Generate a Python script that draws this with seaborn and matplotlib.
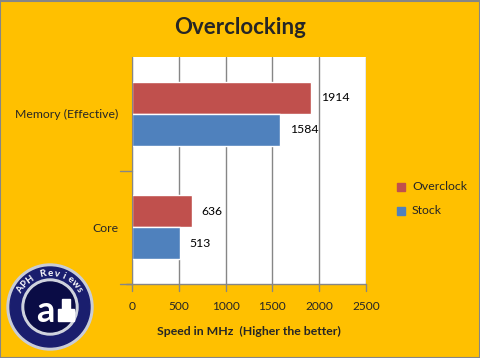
import numpy as np
import pandas as pd
import matplotlib
matplotlib.use("Agg")
import matplotlib.pyplot as plt
import seaborn as sns
from matplotlib.patches import Circle, Rectangle

# Data
categories = ["Memory (Effective)", "Core"]
series = ["Overclock", "Stock"]
overclock = [1914, 636]
stock = [1584, 513]
xticks = [0, 500, 1000, 1500, 2000, 2500]

df = pd.DataFrame({
    "category": categories * 2,
    "series": ["Overclock"] * 2 + ["Stock"] * 2,
    "speed": overclock + stock,
})

sns.set_style("white")
plt.rcParams["font.family"] = ["Lato", "DejaVu Sans"]

bg = "#FFC000"
colors = {"Overclock": "#C0504D", "Stock": "#4F81BD"}

fig = plt.figure(figsize=(4.81, 3.58), dpi=100, facecolor=bg)
ax = fig.add_axes([132 / 481, 1 - 284 / 358, 234 / 481, 227 / 358])
ax.set_facecolor("white")

sns.barplot(data=df, y="category", x="speed", hue="series", order=categories,
            hue_order=series, palette=colors, orient="h", width=0.56,
            saturation=1, ax=ax, legend=False)

for cont in ax.containers:
    ax.bar_label(cont, padding=7, fontsize=8.8, color="black")

ax.set_xlim(0, 2500)
ax.set_xticks(xticks)
ax.set_xticklabels([str(t) for t in xticks], fontsize=8.6)
ax.xaxis.grid(True, color="#868686", linewidth=1)
ax.set_axisbelow(True)
ax.tick_params(axis="x", length=0, pad=12)
ax.tick_params(axis="y", labelsize=8.8, length=0, pad=10)
ax.set_ylim(1.5, -0.5)
ax.set_ylabel("")
ax.set_xlabel("Speed in MHz  (Higher the better)", fontsize=8.8, fontweight="bold", labelpad=10)
for s in ["top", "right", "bottom"]:
    ax.spines[s].set_visible(False)
ax.spines["left"].set_color("#868686")

# Little tick marks outside the plot area
ax.plot([-0.05, 0], [0.5, 0.5], transform=ax.get_yaxis_transform(), color="#868686", lw=1, clip_on=False)
ax.plot([-0.05, 0], [1.5, 1.5], transform=ax.get_yaxis_transform(), color="#868686", lw=1, clip_on=False)
for t in xticks:
    ax.plot([t, t], [0, -0.03], transform=ax.get_xaxis_transform(), color="#868686", lw=1, clip_on=False)
ax.plot([-60, 2500], [0, 0], transform=ax.get_xaxis_transform(), color="#868686", lw=1, clip_on=False)

fig.text(0.5, 1 - 27 / 358, "Overclocking", ha="center", va="center",
         fontsize=16, fontweight="bold")

# Legend
for i, name in enumerate(series):
    y = 187 + 24 * i
    fig.patches.append(Rectangle(((401 - 4) / 481, 1 - (y + 4) / 358), 8 / 481, 8 / 358,
                                 transform=fig.transFigure, color=colors[name]))
    fig.text(412 / 481, 1 - y / 358, name, va="center", fontsize=8.8)

# Logo (approximation)
lax = fig.add_axes([0, 0, 1, 1], facecolor="none")
lax.set_xlim(0, 481)
lax.set_ylim(358, 0)
lax.axis("off")
cx, cy = 50, 307
lax.add_patch(Circle((cx, cy), 43, color="#C9CDD8"))
lax.add_patch(Circle((cx, cy), 40, color="#1A1E6E"))
lax.add_patch(Circle((cx, cy), 28, color="#D0D4DE"))
lax.add_patch(Circle((cx, cy), 25, color="#0A0C45"))
lax.text(cx - 5, cy + 4, "a", ha="center", va="center", fontsize=26, fontweight="bold", color="white")
lax.add_patch(Rectangle((cx + 8, cy + 2), 16, 12, color="white"))
lax.add_patch(Rectangle((cx + 12, cy - 8), 8, 12, color="white"))
logo_text = "APH Reviews"
angles = np.linspace(150, 30, len(logo_text))
for ch, a in zip(logo_text, angles):
    r = np.deg2rad(a)
    lax.text(cx + 34 * np.cos(r), cy - 34 * np.sin(r), ch, ha="center", va="center",
             rotation=a - 90, fontsize=7, fontweight="bold", color="white")

# Border
fig.patches.append(Rectangle((0.001, 0.001), 0.997, 0.996, transform=fig.transFigure,
                             fill=False, edgecolor="#868686", lw=1.5))

fig.savefig("out.png", dpi=100, facecolor=bg)
